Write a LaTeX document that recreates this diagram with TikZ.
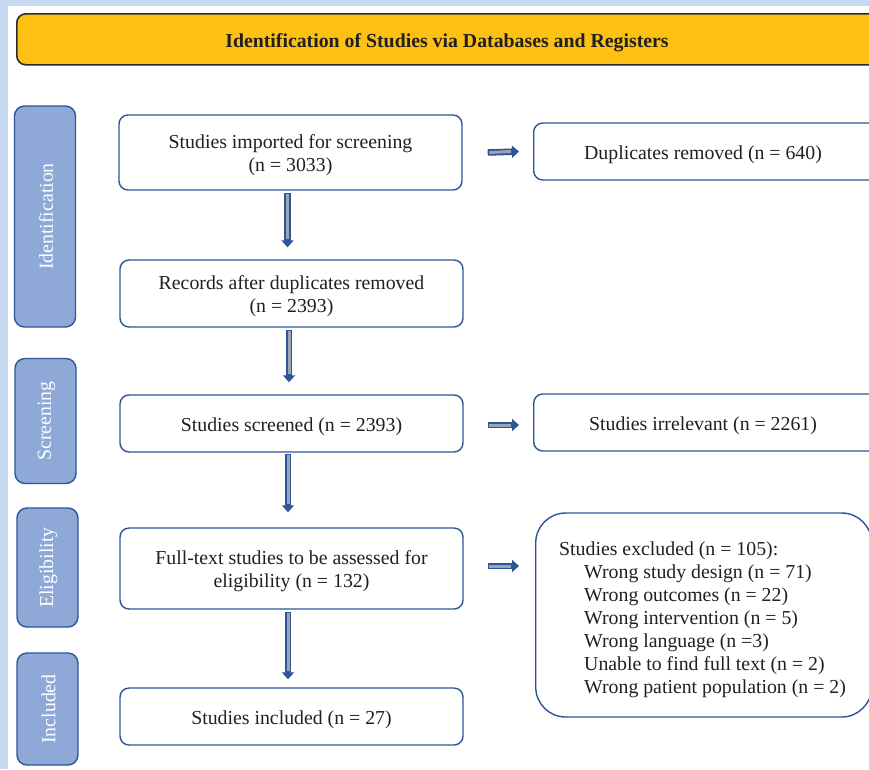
\documentclass[tikz,border=0pt]{standalone}
\usepackage{fontspec}
\setmainfont{Liberation Serif}
\usetikzlibrary{arrows.meta,calc}
\definecolor{bgblue}{HTML}{C5D9F0}
\definecolor{banner}{HTML}{FCC113}
\definecolor{bannerline}{HTML}{2B2B2B}
\definecolor{phasefill}{HTML}{8EA9D8}
\definecolor{navy}{HTML}{2F5597}
\definecolor{arrowgray}{HTML}{9AA4B8}
\definecolor{txt}{HTML}{231F20}
\newcommand{\bxt}[1]{\raisebox{-3pt}[\height][\depth]{\begin{tabular}{@{}c@{}}#1\end{tabular}}}
\tikzset{
  base/.style={font=\fontsize{19.8}{23}\selectfont, text=txt},
  mainbox/.style={base, draw=navy, line width=1.4pt, rounded corners=9pt, fill=white, minimum width=343pt, inner sep=0pt},
  sidebox/.style={draw=navy, line width=1.4pt, rounded corners=9pt, fill=white, inner sep=0pt},
  phasebox/.style={draw=navy, line width=1.4pt, fill=phasefill, rounded corners=10pt, inner sep=0pt, minimum width=61pt},
  phasetext/.style={font=\fontsize{19.8}{23}\selectfont, text=white, rotate=90, inner sep=0pt},
  arrowout/.style={draw=navy, line width=6.5pt, -{Triangle[length=7pt,width=12pt]}},
  arrowin/.style={draw=arrowgray, line width=3pt},
}
\begin{document}
\begin{tikzpicture}[x=1pt,y=-1pt]
\useasboundingbox (0,0) rectangle (869,769);
\fill[bgblue] (0,0) rectangle (869,769);
\fill[white] (8,6) rectangle (869,769);

% banner
\node[draw=bannerline, line width=1.6pt, fill=banner, rounded corners=9pt, minimum width=900pt, minimum height=51pt, anchor=north west, inner sep=0pt] (banner) at (16,13) {};
\node[font=\bfseries\fontsize{19.8}{23}\selectfont, text=txt, inner sep=0pt] (bannertext) at (447,43) {Identification of Studies via Databases and Registers};

% phase boxes
\node[phasebox, minimum height=221pt] (pid) at (45,216.5) {};
\node[phasetext] (pidt) at ($(pid.center)+(1,0)$) {Identification};
\node[phasebox, minimum height=125pt] (psc) at (45.5,421) {};
\node[phasetext] (psct) at ($(psc.center)+(1,0)$) {Screening};
\node[phasebox, minimum height=119pt] (pel) at (47.5,567.5) {};
\node[phasetext] (pelt) at ($(pel.center)+(1,0)$) {Eligibility};
\node[phasebox, minimum height=112pt] (pin) at (47.5,709) {};
\node[phasetext] (pint) at ($(pin.center)+(1,0)$) {Included};

% main boxes
\node[mainbox, minimum height=75pt] (b1) at (290.5,152.5) {\bxt{Studies imported for screening\\(n = 3033)}};
\node[mainbox, minimum height=67pt] (b2) at (291.5,293.5) {\bxt{Records after duplicates removed\\(n = 2393)}};
\node[mainbox, minimum height=57pt] (b3) at (291.5,423.5) {\bxt{Studies screened (n = 2393)}};
\node[mainbox, minimum height=81pt] (b4) at (291.5,568.5) {\bxt{Full-text studies to be assessed for\\eligibility (n = 132)}};
\node[mainbox, minimum height=57pt] (b5) at (291.5,716.5) {\bxt{Studies included (n = 27)}};

% side boxes
\node[sidebox, minimum width=360pt, minimum height=57pt, anchor=west] (r1) at (533,151.5) {};
\node[base, inner sep=0pt] (r1t) at (703,155) {Duplicates removed (n = 640)};
\node[sidebox, minimum width=360pt, minimum height=57pt, anchor=west] (r2) at (533,422.5) {};
\node[base, inner sep=0pt] (r2t) at (703,426) {Studies irrelevant (n = 2261)};
\node[sidebox, rounded corners=30pt, minimum width=336pt, minimum height=204pt, anchor=west] (r3) at (535,615) {};
\node[base, align=left, anchor=west, inner sep=0pt] (r3t) at (559,619.5) {Studies excluded (n = 105):\\
\hspace*{25pt}Wrong study design (n = 71)\\
\hspace*{25pt}Wrong outcomes (n = 22)\\
\hspace*{25pt}Wrong intervention (n = 5)\\
\hspace*{25pt}Wrong language (n =3)\\
\hspace*{25pt}Unable to find full text (n = 2)\\
\hspace*{25pt}Wrong patient population (n = 2)};

% vertical arrows
\coordinate (a1s) at ($(b1.south)+(-3,2)$);
\coordinate (a1e) at ($(b2.north)+(-4,-12)$);
\coordinate (a2s) at ($(b2.south)+(-2.5,2)$);
\coordinate (a2e) at ($(b3.north)+(-2.5,-12)$);
\coordinate (a3s) at ($(b3.south)+(-3.5,1)$);
\coordinate (a3e) at ($(b4.north)+(-3.5,-15)$);
\coordinate (a4s) at ($(b4.south)+(-3.5,2)$);
\coordinate (a4e) at ($(b5.north)+(-3.5,-8)$);
\foreach \s/\e in {a1s/a1e,a2s/a2e,a3s/a3e,a4s/a4e}{
  \draw[arrowout] (\s) -- (\e);
  \draw[arrowin] ($(\s)+(0,1.6)$) -- ($(\e)+(0,-8)$);
}
% horizontal arrows
\coordinate (h1s) at ($(b1.east)+(25,0)$);
\coordinate (h1e) at ($(r1.west)+(-14,0)$);
\coordinate (h2s) at ($(b3.east)+(24,1.5)$);
\coordinate (h2e) at ($(r2.west)+(-14,2.5)$);
\coordinate (h3s) at ($(b4.east)+(24,-2.5)$);
\coordinate (h3e) at ($(r3.west)+(-16,-49)$);
\foreach \s/\e in {h1s/h1e,h2s/h2e,h3s/h3e}{
  \draw[arrowout] (\s) -- (\e);
  \draw[arrowin] ($(\s)+(1.6,0)$) -- ($(\e)+(-8,0)$);
}
\end{tikzpicture}
\end{document}
